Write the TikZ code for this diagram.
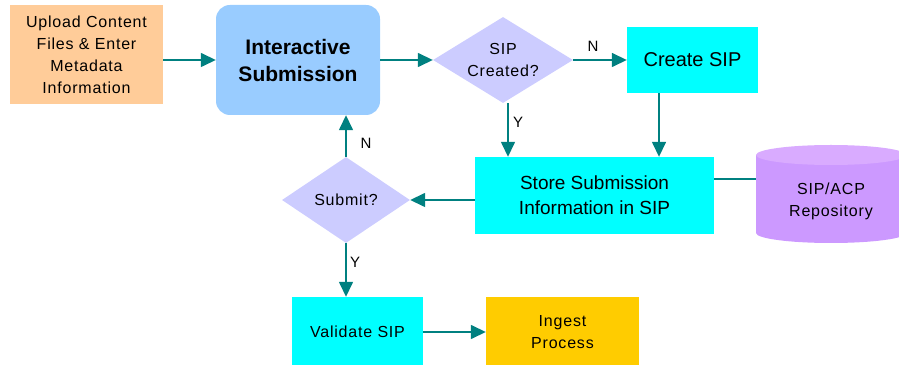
\documentclass[tikz,border=0pt]{standalone}
\usepackage{fontspec}
\setmainfont{Liberation Sans}
\newfontfamily\spacedfont[LetterSpace=5]{Liberation Sans}
\usetikzlibrary{arrows.meta,shapes.geometric}
\definecolor{peach}{HTML}{FFCC99}
\definecolor{lblue}{HTML}{99CCFF}
\definecolor{lav}{HTML}{CCCCFF}
\definecolor{cyanbox}{HTML}{00FFFF}
\definecolor{gold}{HTML}{FFCC00}
\definecolor{tealc}{HTML}{008080}
\definecolor{cylbody}{HTML}{CC99FF}
\definecolor{cyltop}{HTML}{D9ABFF}
\begin{document}
\begin{tikzpicture}[x=1pt,y=1pt,
  boxbase/.style={rectangle, inner sep=0pt, align=center},
  smallfont/.style={font=\spacedfont\fontsize{16}{22}\selectfont},
  bigfont/.style={font=\fontsize{20}{25}\selectfont},
  decision/.style={diamond, fill=lav, inner sep=0pt, align=center, aspect=1.6},
  flow/.style={draw=tealc, line width=1.5pt, -{Triangle[length=15pt,width=14pt]}},
  plainline/.style={draw=tealc, line width=1.5pt},
  lab/.style={inner sep=0pt, font=\fontsize{15}{17}\selectfont}]
\useasboundingbox (0,0) rectangle (899,364);
\clip (0,0) rectangle (899,364);

% nodes
\node[boxbase, smallfont, fill=peach, minimum width=153pt, minimum height=99pt]
  (upload) at (86.5,309.5) {Upload Content\\Files \& Enter\\Metadata\\Information};
\node[boxbase, fill=lblue, rounded corners=14pt, minimum width=164pt, minimum height=110pt,
  font=\fontsize{21}{27}\selectfont\bfseries]
  (is) at (298,304) {Interactive\\Submission};
\node[decision, smallfont, minimum width=140pt, minimum height=86pt]
  (sipc) at (503,304) {SIP\\Created?};
\node[boxbase, bigfont, fill=cyanbox, minimum width=131pt, minimum height=66pt]
  (create) at (692.5,304) {Create SIP};
\node[boxbase, font=\fontsize{19}{25}\selectfont, fill=cyanbox, minimum width=239pt, minimum height=77pt]
  (store) at (594.5,168.5) {Store Submission\\Information in SIP};

% repository cylinder
\fill[cylbody] (756,209) -- (756,131) arc[start angle=180,end angle=360,x radius=75,y radius=10] -- (906,209) -- cycle;
\fill[cyltop] (831,209) ellipse[x radius=75,y radius=10];
\node[boxbase, smallfont] (repo) at (831,163) {SIP/ACP\\Repository};
\coordinate (repoL) at (756,185);

\node[decision, smallfont, minimum width=128pt, minimum height=86pt]
  (submit) at (346,164) {Submit?};
\node[boxbase, smallfont, fill=cyanbox, minimum width=131pt, minimum height=70pt]
  (validate) at (357.5,32) {Validate SIP};
\node[boxbase, smallfont, fill=gold, minimum width=153pt, minimum height=70pt]
  (ingest) at (562.5,32) {Ingest\\Process};

% connectors
\draw[flow] (upload.east |- is.west) -- (is.west);
\draw[flow] (is.east) -- (sipc.west);
\draw[flow] (sipc.east) -- (create.west);
\draw[flow] ([xshift=5pt]sipc.south) -- ([xshift=5pt]sipc.south |- store.north);
\draw[flow] ([xshift=-33.5pt]create.south) -- ([xshift=-33.5pt]create.south |- store.north);
\draw[plainline] (store.east |- repoL) -- (repoL);
\draw[flow] (store.west |- submit.east) -- (submit.east);
\draw[flow] (submit.north) -- (submit.north |- is.south);
\draw[flow] (submit.south) -- (submit.south |- validate.north);
\draw[flow] (validate.east) -- (validate.east -| ingest.west);

% labels
\node[lab] (n1) at (593,318) {N};
\node[lab] (y1) at (518,242) {Y};
\node[lab] (n2) at (366,221) {N};
\node[lab] (y2) at (355,102) {Y};
\end{tikzpicture}
\end{document}
